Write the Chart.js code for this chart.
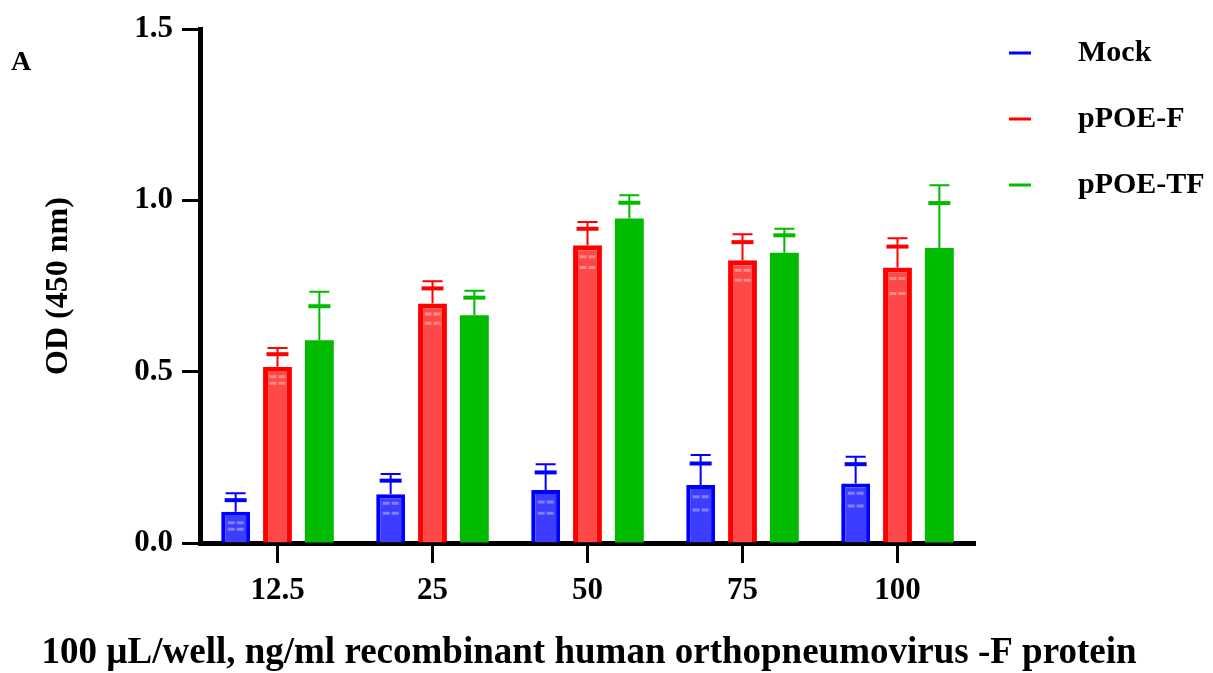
<!DOCTYPE html>
<html lang="en">
<head>
<meta charset="utf-8">
<script src="https://cdn.jsdelivr.net/npm/chart.js@4.4.0/dist/chart.umd.min.js"></script>
<style>
    body { margin: 0; background: #fff; }
</style>
</head>
<body>
<canvas id="odChart" width="1213" height="673"></canvas>

<script>
    // values (OD 450 nm)
    const doses = ['12.5', '25', '50', '75', '100'];
    const seriesNames = ['Mock', 'pPOE-F', 'pPOE-TF'];

    const mockMean = [0.091, 0.142, 0.155, 0.169, 0.174];
    const pofMean = [0.514, 0.699, 0.869, 0.825, 0.804];
    const potfMean = [0.592, 0.665, 0.947, 0.847, 0.861];

    const mockSD = [0.054, 0.059, 0.075, 0.088, 0.078];
    const pofSD = [0.055, 0.065, 0.068, 0.076, 0.085];
    const potfSD = [0.141, 0.071, 0.068, 0.070, 0.183];

    // replicate wells (dash marks)
    const mockRepHigh = [0.125, 0.182, 0.206, 0.232, 0.230];
    const pofRepHigh = [0.551, 0.743, 0.917, 0.878, 0.865];
    const potfRepHigh = [0.691, 0.716, 0.993, 0.898, 0.992];
    const mockRepLow = [[0.059, 0.040], [0.116, 0.087], [0.120, 0.087], [0.135, 0.096], [0.145, 0.108]];
    const pofRepLow = [[0.485, 0.466], [0.668, 0.641], [0.835, 0.804], [0.796, 0.767], [0.772, 0.728]];

    const yTicks = [0, 0.5, 1.0, 1.5];

    const xTitle = '100 µL/well, ng/ml recombinant human orthopneumovirus -F protein';
    const serif = "'Liberation Serif', 'Times New Roman', serif";

    const extras = [
        { sd: mockSD, hi: mockRepHigh, lo: mockRepLow, dash: 'rgba(150,150,255,0.75)' },
        { sd: pofSD, hi: pofRepHigh, lo: pofRepLow, dash: 'rgba(255,160,160,0.75)' },
        { sd: potfSD, hi: potfRepHigh, lo: null, dash: null }
    ];

    const errorBars = {
        id: 'errorBars',
        afterDatasetsDraw(chart) {
            const c = chart.ctx;
            const y = chart.scales.y;
            chart.data.datasets.forEach((ds, i) => {
                const ex = extras[i];
                chart.getDatasetMeta(i).data.forEach((bar, j) => {
                    const top = y.getPixelForValue(ds.data[j] + ex.sd[j]);
                    const hi = y.getPixelForValue(ex.hi[j]);
                    c.save();
                    c.strokeStyle = ds.borderColor;
                    c.lineWidth = 2;
                    c.beginPath();
                    c.moveTo(bar.x, bar.y);
                    c.lineTo(bar.x, top);
                    c.moveTo(bar.x - 10, top);
                    c.lineTo(bar.x + 10, top);
                    c.stroke();
                    c.lineWidth = 4;
                    c.beginPath();
                    c.moveTo(bar.x - 11, hi);
                    c.lineTo(bar.x + 11, hi);
                    c.stroke();
                    if (ex.lo) {
                        c.strokeStyle = ex.dash;
                        c.lineWidth = 3;
                        ex.lo[j].forEach(v => {
                            const py = y.getPixelForValue(v);
                            c.beginPath();
                            c.moveTo(bar.x - 8, py);
                            c.lineTo(bar.x - 1, py);
                            c.moveTo(bar.x + 1, py);
                            c.lineTo(bar.x + 8, py);
                            c.stroke();
                        });
                    }
                    c.restore();
                });
            });
        }
    };

    const sideLegend = {
        id: 'sideLegend',
        afterDraw(chart) {
            const c = chart.ctx;
            const rows = [53, 119, 185];
            c.save();
            c.font = 'bold 30px ' + serif;
            c.textBaseline = 'middle';
            c.fillStyle = '#000';
            chart.data.datasets.forEach((ds, i) => {
                c.strokeStyle = ds.borderColor;
                c.lineWidth = 3;
                c.beginPath();
                c.moveTo(1009, rows[i]);
                c.lineTo(1031, rows[i]);
                c.stroke();
                c.fillText(ds.label, 1078, rows[i]);
            });

            // x axis title, wider than the plot so drawn here
            const w = c.measureText(xTitle).width;
            const size = Math.round(30 * 1088 / w);
            c.font = 'bold ' + size + 'px ' + serif;
            c.textAlign = 'center';
            c.fillText(xTitle, 589, 653);

            // panel letter
            c.textAlign = 'left';
            c.font = 'bold 28px ' + serif;
            c.fillText('A', 11, 63);
            c.restore();
        }
    };

    const ctx = document.getElementById('odChart');
    const odChart = new Chart(ctx, {
        type: 'bar',
        data: {
            labels: doses,
            datasets: [
                { label: seriesNames[0], data: mockMean, backgroundColor: '#3d3dff', borderColor: '#0000ff', borderWidth: 4 },
                { label: seriesNames[1], data: pofMean, backgroundColor: '#ff4848', borderColor: '#ff0000', borderWidth: 5 },
                { label: seriesNames[2], data: potfMean, backgroundColor: '#00bb00', borderColor: '#00bb00', borderWidth: 0 }
            ]
        },
        options: {
            responsive: false,
            animation: false,
            layout: { padding: { top: 29, right: 238, left: 0, bottom: 0 } },
            datasets: { bar: { categoryPercentage: 0.81, barPercentage: 0.69 } },
            plugins: {
                legend: { display: false },
                tooltip: { enabled: false }
            },
            scales: {
                x: {
                    grid: { drawOnChartArea: false, offset: false, tickLength: 20, tickWidth: 3, tickColor: '#000' },
                    border: { color: '#000', width: 5 },
                    ticks: { color: '#000', padding: 9, maxRotation: 0, font: { family: serif, size: 31, weight: 'bold' } },
                    afterFit(scale) { scale.height = 130; }
                },
                y: {
                    min: 0,
                    max: 1.5,
                    afterBuildTicks(scale) { scale.ticks = yTicks.map(v => ({ value: v })); },
                    grid: { drawOnChartArea: false, tickLength: 18, tickWidth: 3, tickColor: '#000' },
                    border: { color: '#000', width: 5 },
                    ticks: {
                        color: '#000',
                        padding: 9,
                        font: { family: serif, size: 31, weight: 'bold' },
                        callback: v => Number(v).toFixed(1)
                    },
                    title: {
                        display: true,
                        text: 'OD (450 nm)',
                        color: '#000',
                        font: { family: serif, size: 32, weight: 'bold' },
                        padding: { top: 40, bottom: 0 }
                    },
                    afterFit(scale) { scale.width = 200; }
                }
            }
        },
        plugins: [errorBars, sideLegend]
    });
</script>
</body>
</html>
